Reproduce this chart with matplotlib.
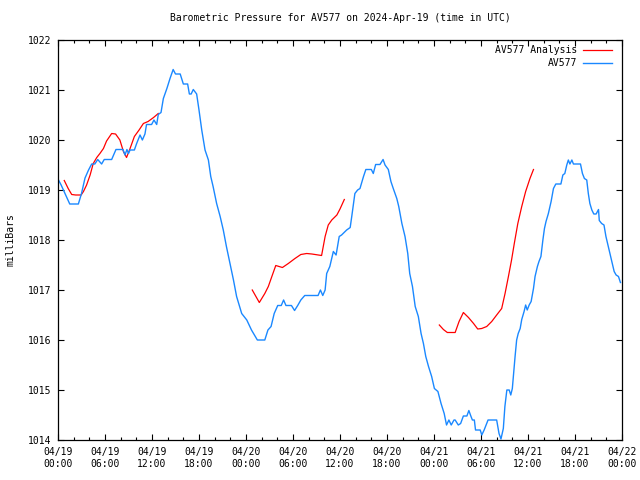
from matplotlib import pyplot as plt
import matplotlib.dates as mdates
from matplotlib.ticker import MultipleLocator
import numpy as np
import pandas as pd

START = pd.Timestamp('2024-04-19 00:00')

# AV577 observed pressure (hours since start, mbar)
obs_hours = [0.0, 0.4, 1.5, 2.6, 3.0, 3.45, 3.9, 4.3, 4.7, 5.07, 5.57, 5.9, 6.85, 7.4, 8.3, 8.55,
             8.8, 9.0, 9.2, 9.75, 10.04, 10.47, 10.77, 11.1, 11.3, 11.95, 12.25, 12.6, 12.8, 13.15,
             13.45, 13.9, 14.3, 14.7, 15.0, 15.6, 16.0, 16.55, 16.77, 17.0, 17.27, 17.7, 18.0,
             18.35, 18.77, 19.2, 19.5, 19.8, 20.25, 20.7, 21.1, 21.5, 21.95, 22.4, 22.8, 23.45,
             24.1, 24.7, 25.45, 26.4, 26.8, 27.2, 27.6, 28.05, 28.5, 28.8, 29.1, 29.8, 30.2, 30.6,
             31.0, 31.5, 33.2, 33.5, 33.8, 34.1, 34.3, 34.7, 35.15, 35.5, 35.9, 36.2, 36.4, 36.85,
             37.3, 37.5, 37.9, 38.25, 38.55, 39.0, 39.3, 40.0, 40.25, 40.55, 41.1, 41.5, 41.75,
             42.17, 42.5, 42.8, 43.25, 43.5, 43.9, 44.3, 44.65, 44.9, 45.25, 45.6, 46.0, 46.35,
             46.65, 46.95, 47.3, 47.7, 48.05, 48.5, 48.9, 49.3, 49.6, 49.9, 50.2, 50.55, 50.7,
             51.1, 51.4, 51.75, 52.2, 52.45, 52.7, 52.9, 53.15, 53.3, 53.9, 54.1, 54.4, 54.9,
             56.0, 56.3, 56.55, 56.85, 57.05, 57.3, 57.6, 57.8, 58.0, 58.2, 58.35, 58.55, 58.75,
             59.0, 59.2, 59.5, 59.7, 59.9, 60.15, 60.4, 60.7, 60.9, 61.2, 61.4, 61.65, 61.9, 62.1,
             62.3, 62.6, 62.95, 63.25, 63.55, 64.2, 64.45, 64.7, 64.95, 65.15, 65.35, 65.6, 65.8,
             66.7, 66.95, 67.2, 67.5, 67.7, 67.9, 68.15, 68.4, 68.7, 69.0, 69.1, 69.4, 69.7,
             69.95, 70.25, 70.5, 70.75, 71.0, 71.25, 71.55, 71.8]
obs_mbar = [1019.22, 1019.1, 1018.72, 1018.72, 1018.93, 1019.24, 1019.4, 1019.52, 1019.52, 1019.61,
            1019.52, 1019.61, 1019.61, 1019.81, 1019.81, 1019.7, 1019.81, 1019.73, 1019.8, 1019.8,
            1019.93, 1020.1, 1020.0, 1020.12, 1020.31, 1020.31, 1020.4, 1020.31, 1020.51, 1020.55,
            1020.83, 1021.03, 1021.23, 1021.41, 1021.32, 1021.32, 1021.12, 1021.12, 1020.92,
            1020.92, 1021.01, 1020.92, 1020.6, 1020.2, 1019.8, 1019.6, 1019.27, 1019.07, 1018.73,
            1018.47, 1018.2, 1017.87, 1017.53, 1017.2, 1016.87, 1016.53, 1016.4, 1016.2, 1016.0,
            1016.0, 1016.2, 1016.27, 1016.53, 1016.69, 1016.69, 1016.8, 1016.69, 1016.69, 1016.59,
            1016.69, 1016.8, 1016.89, 1016.89, 1017.0, 1016.89, 1017.0, 1017.33, 1017.47, 1017.77,
            1017.7, 1018.07, 1018.1, 1018.13, 1018.2, 1018.25, 1018.47, 1018.93, 1019.0, 1019.03,
            1019.27, 1019.41, 1019.41, 1019.33, 1019.51, 1019.51, 1019.61, 1019.5, 1019.41,
            1019.17, 1019.03, 1018.83, 1018.67, 1018.33, 1018.07, 1017.73, 1017.33, 1017.07,
            1016.67, 1016.47, 1016.13, 1015.93, 1015.67, 1015.47, 1015.27, 1015.03, 1014.97,
            1014.73, 1014.53, 1014.3, 1014.4, 1014.3, 1014.4, 1014.4, 1014.3, 1014.33, 1014.48,
            1014.48, 1014.59, 1014.48, 1014.4, 1014.4, 1014.2, 1014.2, 1014.1, 1014.2, 1014.4,
            1014.4, 1014.13, 1014.02, 1014.23, 1014.67, 1015.0, 1015.0, 1014.9, 1015.03, 1015.4,
            1015.67, 1016.0, 1016.13, 1016.23, 1016.41, 1016.57, 1016.7, 1016.6, 1016.7, 1016.77,
            1017.03, 1017.27, 1017.47, 1017.57, 1017.67, 1018.0, 1018.23, 1018.37, 1018.53,
            1018.77, 1019.03, 1019.12, 1019.12, 1019.3, 1019.33, 1019.5, 1019.6, 1019.52, 1019.6,
            1019.52, 1019.52, 1019.33, 1019.23, 1019.2, 1018.93, 1018.73, 1018.6, 1018.52,
            1018.52, 1018.61, 1018.39, 1018.33, 1018.3, 1018.07, 1017.87, 1017.7, 1017.53,
            1017.37, 1017.3, 1017.27, 1017.15]

# AV577 Analysis, three runs
ana1_hours = [0.8, 1.3, 1.75, 2.25, 2.95, 3.25, 3.65, 4.1, 4.5, 4.95, 5.35, 5.8, 6.2, 6.85, 7.35,
              7.9, 8.35, 8.75, 9.2, 9.75, 10.35, 10.9, 11.5, 12.2, 12.8]
ana1_mbar = [1019.19, 1019.03, 1018.91, 1018.9, 1018.9, 1018.97, 1019.1, 1019.3, 1019.53, 1019.65,
             1019.73, 1019.83, 1019.98, 1020.13, 1020.12, 1020.0, 1019.77, 1019.65, 1019.83,
             1020.07, 1020.2, 1020.33, 1020.37, 1020.45, 1020.53]
ana2_hours = [24.8, 25.7, 26.4, 26.85, 27.3, 27.8, 28.65, 29.4, 30.25, 31.0, 31.75, 32.4, 33.65,
              34.1, 34.5, 34.95, 35.6, 36.0, 36.55]
ana2_mbar = [1017.0, 1016.75, 1016.93, 1017.07, 1017.27, 1017.49, 1017.45, 1017.53, 1017.63,
             1017.71, 1017.73, 1017.72, 1017.69, 1018.07, 1018.3, 1018.4, 1018.5, 1018.62, 1018.81]
ana3_hours = [48.68, 49.2, 49.7, 50.7, 51.2, 51.75, 52.4, 53.05, 53.58, 54.09, 54.73, 55.37, 56.0,
              56.64, 57.07, 57.5, 57.9, 58.25, 58.7, 59.2, 59.7, 60.25, 60.7]
ana3_mbar = [1016.3, 1016.21, 1016.15, 1016.15, 1016.37, 1016.55, 1016.45, 1016.33, 1016.22,
             1016.23, 1016.27, 1016.37, 1016.5, 1016.63, 1016.93, 1017.27, 1017.6, 1017.93,
             1018.33, 1018.67, 1018.97, 1019.23, 1019.41]

RED = '#ff0000'
BLUE = '#1a88ff'
FONT = 'DejaVu Sans Mono'
FS = 7


def to_time(hours):
    return START + pd.to_timedelta(np.array(hours), unit='h')


plt.rcParams['font.family'] = FONT
plt.rcParams['font.size'] = FS

fig = plt.figure(figsize=(6.4, 4.8), dpi=100)
ax = fig.add_axes([58 / 640, 40 / 480, 564 / 640, 400 / 480])

for i, (h, v) in enumerate([(ana1_hours, ana1_mbar), (ana2_hours, ana2_mbar), (ana3_hours, ana3_mbar)]):
    ax.plot(to_time(h), v, color=RED, lw=0.9, label='AV577 Analysis' if i == 0 else None)
ax.plot(to_time(obs_hours), obs_mbar, color=BLUE, lw=1.0, label='AV577')

ax.set_xlim(START, START + pd.Timedelta(hours=72))
ax.set_ylim(1014, 1022)
ax.xaxis.set_major_locator(mdates.HourLocator(byhour=range(0, 24, 6)))
ax.xaxis.set_minor_locator(mdates.HourLocator(byhour=range(0, 24, 2)))
ax.xaxis.set_major_formatter(mdates.DateFormatter('%m/%d\n%H:%M'))
ax.yaxis.set_major_locator(MultipleLocator(1))
ax.yaxis.set_major_formatter(lambda v, p: f'{v:.0f}')
ax.tick_params(which='both', direction='in', top=True, right=True, width=0.8, labelsize=FS)
ax.tick_params(which='major', length=4, pad=5)
ax.tick_params(which='minor', length=2.2)
for s in ax.spines.values():
    s.set_linewidth(0.9)

ax.set_ylabel('milliBars', fontsize=FS, labelpad=9)
ax.set_title('Barometric Pressure for AV577 on 2024-Apr-19 (time in UTC)', fontsize=FS, pad=14)
ax.legend(loc='upper right', bbox_to_anchor=(1 - 10 / 564, 1 - 5.5 / 400), frameon=False,
          markerfirst=False, handlelength=3.0, handletextpad=0.6, borderaxespad=0,
          borderpad=0, labelspacing=0.3, fontsize=FS)

fig.savefig('out.png', dpi=100)
